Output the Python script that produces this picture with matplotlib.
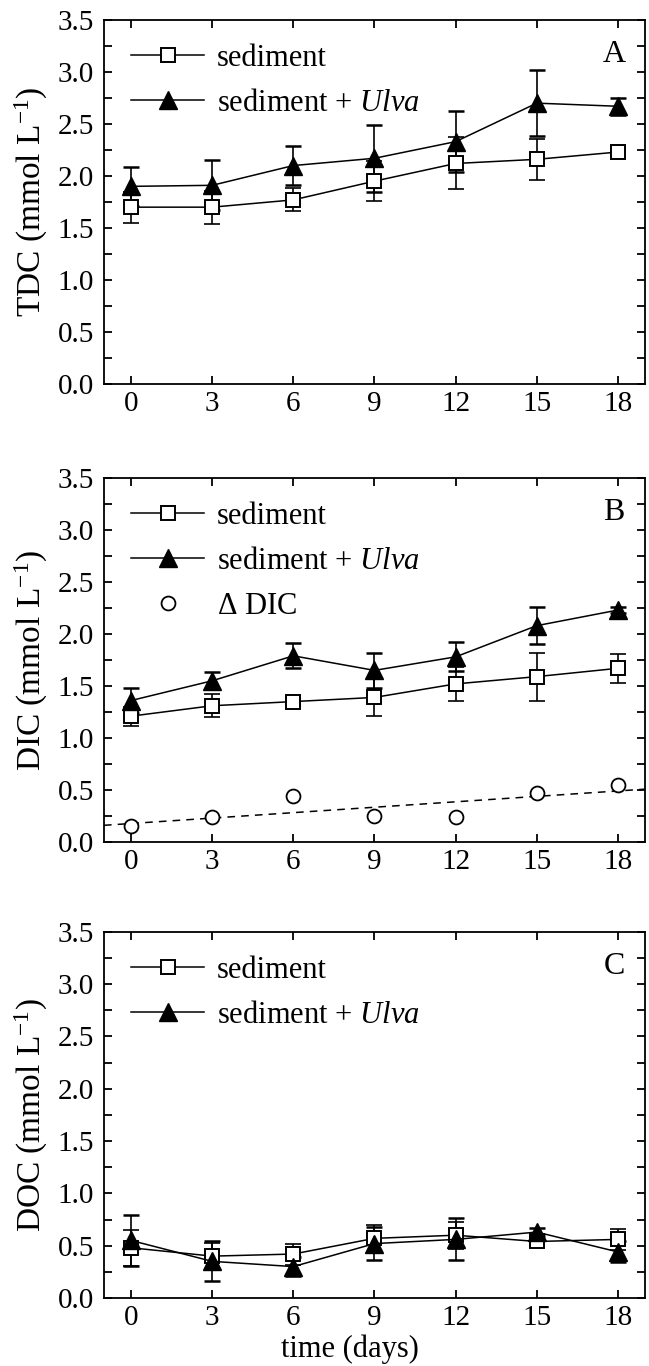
"""TDC / DIC / DOC time course, sediment vs sediment + Ulva (3 stacked panels)."""
import numpy as np
import matplotlib
matplotlib.use("Agg")  # headless
import matplotlib.pyplot as plt
from matplotlib.ticker import MultipleLocator, FormatStrFormatter

plt.rcParams["font.family"] = ["Liberation Serif", "DejaVu Serif"]
plt.rcParams["mathtext.fontset"] = "custom"
plt.rcParams["mathtext.rm"] = "Liberation Serif"
plt.rcParams["mathtext.it"] = "Liberation Serif:italic"

days = [0, 3, 6, 9, 12, 15, 18]

# panel A: total dissolved carbon
tdc_sed = [1.70, 1.70, 1.77, 1.95, 2.12, 2.16, 2.23]
tdc_sed_err = [0.15, 0.16, 0.11, 0.19, 0.25, 0.20, 0.03]
tdc_ulva = [1.90, 1.91, 2.10, 2.17, 2.33, 2.70, 2.67]
tdc_ulva_err = [0.19, 0.24, 0.19, 0.32, 0.29, 0.32, 0.08]

# panel B: dissolved inorganic carbon (+ difference)
dic_sed = [1.21, 1.31, 1.35, 1.39, 1.52, 1.59, 1.67]
dic_sed_err = [0.09, 0.11, 0.03, 0.18, 0.16, 0.23, 0.14]
dic_ulva = [1.36, 1.55, 1.79, 1.65, 1.78, 2.08, 2.23]
dic_ulva_err = [0.12, 0.08, 0.12, 0.17, 0.14, 0.18, 0.03]
delta_dic = [0.15, 0.24, 0.44, 0.25, 0.24, 0.47, 0.55]

# panel C: dissolved organic carbon
doc_sed = [0.48, 0.40, 0.42, 0.57, 0.60, 0.54, 0.56]
doc_sed_err = [0.17, 0.13, 0.10, 0.13, 0.13, 0.04, 0.10]
doc_ulva = [0.55, 0.35, 0.30, 0.52, 0.56, 0.63, 0.44]
doc_ulva_err = [0.24, 0.19, 0.09, 0.16, 0.20, 0.04, 0.10]

TICK_FS = 21
LABEL_FS = 24
LEG_FS = 22
ULVA_LABEL = r"sediment + $\mathit{Ulva}$"


def draw_pair(ax, sed, sed_err, ulva, ulva_err):
    # error bars behind, markers on top
    ax.errorbar(days, sed, yerr=sed_err, fmt="none", ecolor="k", elinewidth=1.2,
                capsize=6, capthick=1.2, zorder=2)
    ax.errorbar(days, ulva, yerr=ulva_err, fmt="none", ecolor="k", elinewidth=1.2,
                capsize=6, capthick=1.8, zorder=2)
    ax.plot(days, sed, "-", color="k", lw=1.1, marker="s", ms=10.5,
            mfc="white", mec="k", mew=1.4, label="sediment", zorder=3)
    ax.plot(days, ulva, "-", color="k", lw=1.1, marker="^", ms=12.5,
            mfc="k", mec="k", label=ULVA_LABEL, zorder=4)


def style(ax, ylabel, letter):
    ax.set_xlim(-1, 19)
    ax.set_ylim(0, 3.5)
    ax.xaxis.set_major_locator(MultipleLocator(3))
    ax.yaxis.set_major_locator(MultipleLocator(0.5))
    ax.yaxis.set_minor_locator(MultipleLocator(0.25))
    ax.yaxis.set_major_formatter(FormatStrFormatter("%.1f"))
    ax.tick_params(which="both", direction="in", top=True, right=True,
                   labelsize=TICK_FS, width=1.3, pad=7, length=6)
    ax.tick_params(axis="x", pad=5)
    for s in ax.spines.values():
        s.set_linewidth(1.3)
    ax.set_ylabel(ylabel, fontsize=LABEL_FS)
    ax.yaxis.set_label_coords(-0.10, 0.5)
    ax.text(0.943, 0.905, letter, transform=ax.transAxes, fontsize=23,
            ha="center", va="center")
    ax.legend(loc="upper left", bbox_to_anchor=(0.05, 0.934), frameon=False,
              fontsize=LEG_FS, handlelength=2.4, handletextpad=0.4, labelspacing=0.52,
              borderpad=0, borderaxespad=0, numpoints=1)


fig = plt.figure(figsize=(6.49, 13.66), dpi=100)
ax_a = fig.add_axes([0.1602, 0.7189, 0.8336, 0.2665])
ax_b = fig.add_axes([0.1602, 0.3836, 0.8336, 0.2665])
ax_c = fig.add_axes([0.1602, 0.0498, 0.8336, 0.2680])

draw_pair(ax_a, tdc_sed, tdc_sed_err, tdc_ulva, tdc_ulva_err)
style(ax_a, r"TDC (mmol L$^{-1}$)", "A")

draw_pair(ax_b, dic_sed, dic_sed_err, dic_ulva, dic_ulva_err)
ax_b.plot(days, delta_dic, "o", ls="none", ms=10, mfc="white", mec="k", mew=1.3,
          label=r"$\Delta$ DIC", zorder=4)
# linear fit of delta DIC drawn across the full axis
slope, icpt = np.polyfit(days, delta_dic, 1)
xs = np.array([-1, 19])
ax_b.plot(xs, slope * xs + icpt, "--", color="k", lw=1.1, dashes=(5, 4), zorder=1)
style(ax_b, r"DIC (mmol L$^{-1}$)", "B")

draw_pair(ax_c, doc_sed, doc_sed_err, doc_ulva, doc_ulva_err)
style(ax_c, r"DOC (mmol L$^{-1}$)", "C")
ax_c.set_xlabel("time (days)", fontsize=22)
ax_c.xaxis.set_label_coords(0.455, -0.1)
ax_c.xaxis.label.set_va("top")

fig.savefig("out.png", dpi=100)
